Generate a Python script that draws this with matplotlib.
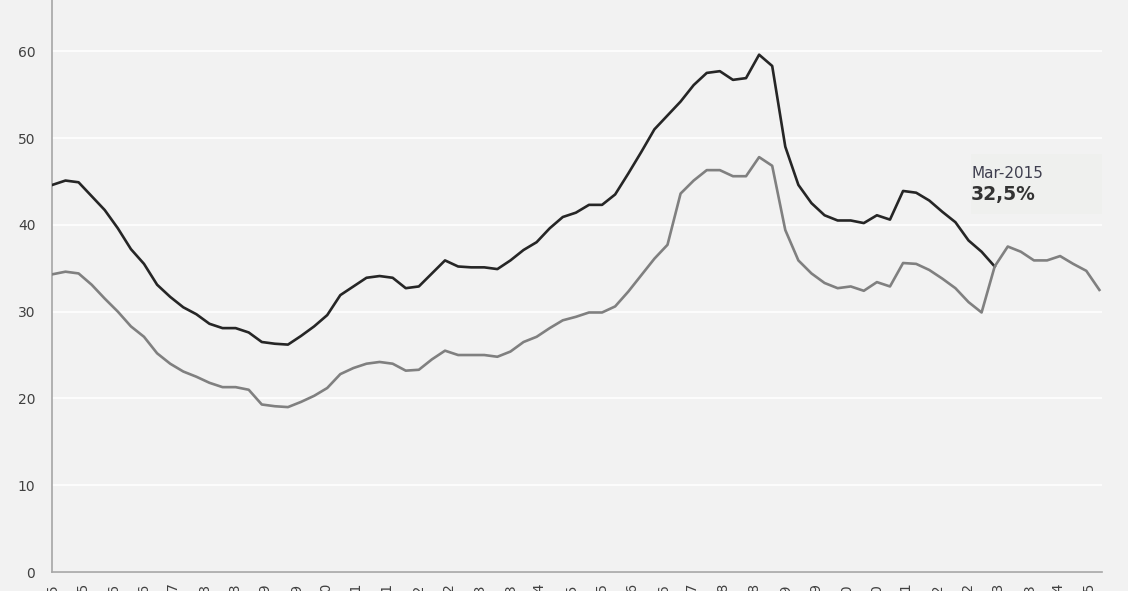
import matplotlib
matplotlib.use("Agg")
import matplotlib.pyplot as plt
import numpy as np
import pandas as pd

# quarterly data, Mar-1995 .. Mar-2015
dates = pd.date_range("1995-03-01", "2015-03-01", freq="3MS")

dark_vals = [44.6, 45.1, 44.9, 43.3, 41.7, 39.6, 37.2, 35.5, 33.1, 31.7,
             30.5, 29.7, 28.6, 28.1, 28.1, 27.6, 26.5, 26.3, 26.2, 27.2,
             28.3, 29.6, 31.9, 32.9, 33.9, 34.1, 33.9, 32.7, 32.9, 34.4,
             35.9, 35.2, 35.1, 35.1, 34.9, 35.9, 37.1, 38.0, 39.6, 40.9,
             41.4, 42.3, 42.3, 43.5, 45.9, 48.4, 51.0, 52.6, 54.2, 56.1,
             57.5, 57.7, 56.7, 56.9, 59.6, 58.3, 49.0, 44.6, 42.5, 41.1,
             40.5, 40.5, 40.2, 41.1, 40.6, 43.9, 43.7, 42.8, 41.5, 40.3,
             38.2, 36.9, 35.2]

gray_vals = [34.3, 34.6, 34.4, 33.1, 31.5, 30.0, 28.3, 27.1, 25.2, 24.0,
             23.1, 22.5, 21.8, 21.3, 21.3, 21.0, 19.3, 19.1, 19.0, 19.6,
             20.3, 21.2, 22.8, 23.5, 24.0, 24.2, 24.0, 23.2, 23.3, 24.5,
             25.5, 25.0, 25.0, 25.0, 24.8, 25.4, 26.5, 27.1, 28.1, 29.0,
             29.4, 29.9, 29.9, 30.6, 32.3, 34.2, 36.1, 37.7, 43.6, 45.1,
             46.3, 46.3, 45.6, 45.6, 47.8, 46.8, 39.4, 35.9, 34.4, 33.3,
             32.7, 32.9, 32.4, 33.4, 32.9, 35.6, 35.5, 34.8, 33.8, 32.7,
             31.1, 29.9, 35.2, 37.5, 36.9, 35.9, 35.9, 36.4, 35.5, 34.7,
             32.5]

yticks = [0, 10, 20, 30, 40, 50, 60]
label_dates = pd.date_range("1995-03-01", "2015-01-01", freq="7MS")
label_text = [d.strftime("%b-%Y") for d in label_dates]

annot_date = "Mar-2015"
annot_value = "32,5%"

bg = "#f2f2f2"
fig = plt.figure(figsize=(11.28, 5.91), dpi=100, facecolor=bg)
ax = fig.add_axes([0.0461, 0.0321, 0.9305, 0.9679])
ax.set_facecolor(bg)

# x in quarters since first point
x_all = np.arange(len(gray_vals))
x_dark = np.arange(len(dark_vals))
ax.plot(x_dark, dark_vals, color="#262626", lw=1.9, solid_joinstyle="round", zorder=3)
ax.plot(x_all, gray_vals, color="#808080", lw=1.9, solid_joinstyle="round", zorder=3)

ax.set_ylim(0, 65.9)
ax.set_xlim(-0.03, 80.17)
ax.set_yticks(yticks)
ax.grid(axis="y", color="white", lw=1.2, zorder=1)

month_idx = [(d.year - 1995) * 12 + d.month - 3 for d in label_dates]
ax.set_xticks([m / 3 for m in month_idx])
ax.set_xticklabels(label_text, rotation=90, fontsize=10, color="#404040")
ax.tick_params(axis="x", length=0, pad=8)
ax.tick_params(axis="y", length=0, pad=12, labelsize=10, labelcolor="#404040")

for s in ["top", "right"]:
    ax.spines[s].set_visible(False)
for s in ["left", "bottom"]:
    ax.spines[s].set_color("#a6a6a6")
    ax.spines[s].set_linewidth(1.2)

# annotation box
ax.axhspan(41.3, 48.2, xmin=0.876, xmax=1.0, color="#eff0ee", zorder=2, lw=0)
ax.text(70.2, 45.9, annot_date, fontsize=11, color="#3f3f4f", va="center", ha="left", zorder=5)
ax.text(70.2, 43.5, annot_value, fontsize=13.5, fontweight="bold", color="#333333",
        va="center", ha="left", zorder=6)

fig.savefig("out.png", dpi=100, facecolor=bg)
